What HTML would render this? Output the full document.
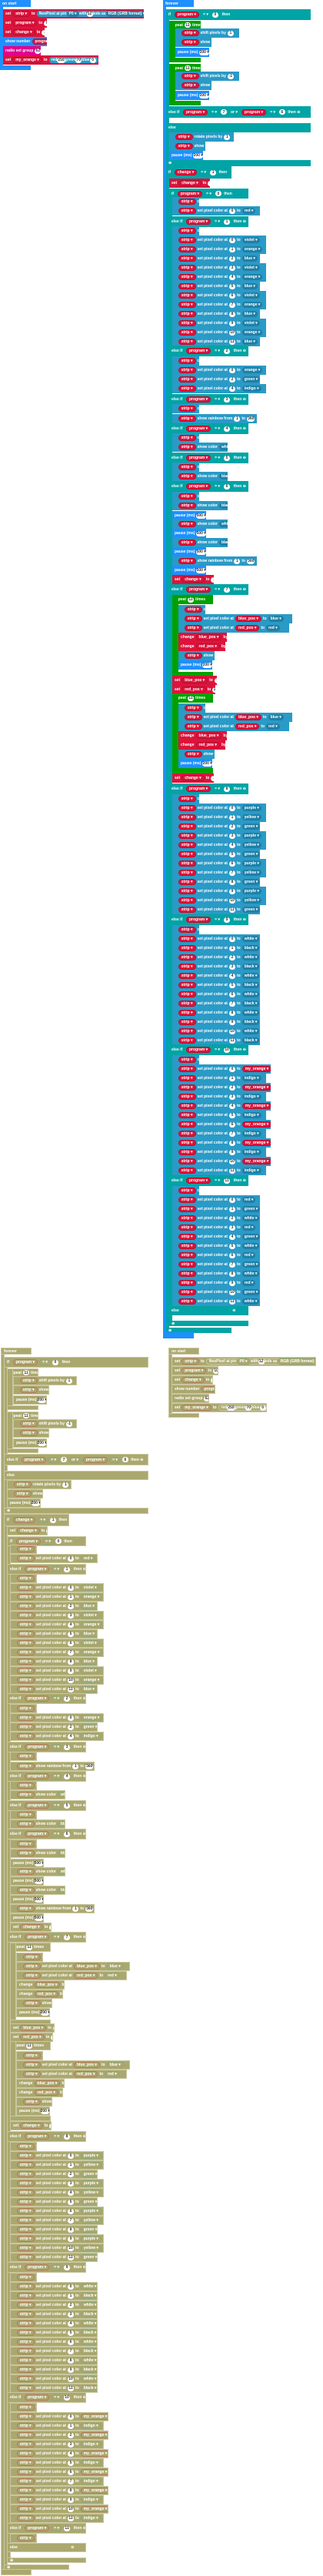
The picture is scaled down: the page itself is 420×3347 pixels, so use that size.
<!DOCTYPE html>
<html><head><meta charset="utf-8"><style>
html,body{margin:0;padding:0;background:#fff;width:420px;height:3347px;overflow:hidden;position:relative}
.b{position:absolute;box-sizing:border-box;font:bold 5px "Liberation Sans",sans-serif;color:#fff;display:flex;align-items:center;gap:2px;padding-left:3px;white-space:nowrap;overflow:hidden}
.p{display:inline-flex;align-items:center;height:8px;border-radius:4px;padding:0 3px;box-sizing:border-box}
.n{display:inline-flex;align-items:center;justify-content:center;height:7px;min-width:8px;border-radius:4px;background:#fff;color:#333;padding:0 1px;box-sizing:border-box}
</style></head><body>
<script>
var T1={blue:'#1e90ff',teal:'#00a4a6',green:'#00a000',red:'#dc143c',neo:'#2a9ac6',pink:'#e3008c',pill:'#dc143c',pb:'#b50f30',dd:'#1f7fa6',txt:'#fff',bd:'none',hex:'#2a9ac6'};
var T2={blue:'#aba86f',teal:'#aba86f',green:'#aba86f',red:'#aba86f',neo:'#aba86f',pink:'#aba86f',pill:'#aba86f',pb:'#b57a5a',dd:'#aba86f',txt:'#fff',bd:'1px solid #c9c79e',hex:'#aba86f'};
var T,OX,OY;
function R(x,y,w,h,c,html){var d=document.createElement('div');d.className='b';d.style.cssText='left:'+(x+OX)+'px;top:'+(y+OY)+'px;width:'+w+'px;height:'+h+'px;background:'+T[c]+';border:'+T.bd;if(html)d.innerHTML=html;document.body.appendChild(d);return d;}
function v(s){return '<span class="p" style="background:'+T.pill+';border:1px solid '+T.pb+'">'+s+' ▾</span>';}
function n(s){return '<span class="n">'+s+'</span>';}
function dd(s,c){return '<span class="p" style="background:'+(c||T.dd)+';border:'+(T===T2?'1px solid #8fa878':'none')+'">'+s+' ▾</span>';}
function st(x,c,w,col,h){return R(x,c-6,w,12,col,h);}
function clr(x,c){st(x,c,35,'neo','&nbsp;&nbsp;'+v('strip')+' clear');}
function sp(x,c,i,col){var w=col=='my_orange'?128:(col.length>5?122:114);st(x,c,w,'neo','&nbsp;&nbsp;'+v('strip')+' set pixel color at '+n(i)+' to '+(col=='my_orange'?v(col):dd(col)));}
function eif(x,c,k,w){R(x,c-7,w||103,14,'teal','else if &nbsp;'+v('program')+' '+dd('=','transparent')+' '+n(k)+' &nbsp;&nbsp;then ⊖');}
function show(x,c,col){st(x,c,72,'neo','&nbsp;&nbsp;'+v('strip')+' show color '+dd(col));}
function rb(x,c){st(x,c,110,'neo','&nbsp;&nbsp;'+v('strip')+' show rainbow from '+n(1)+' to '+n(360));}
function pause(x,c,t){st(x,c,44,'blue','pause (ms) '+n(t+' ▾'));}
function setv(x,c,nm,val,w){st(x,c,w,'red','set '+v(nm)+' to '+n(val));}
function rep(x,y0,y1,inner){R(x,y0,53,12,'green','repeat '+n(11)+' times');R(x,y0,8,y1-y0,'green','');R(x,y1-7,53,7,'green','');}
function forever(olive){
 var s=0;
 R(0,0,4,1739-(olive?144:0),'blue','');
 R(0,0,40,9,'blue','forever');
 R(4,12,4,204,'teal','');
 R(4,12,188,14,'teal','if &nbsp;'+v('program')+' '+dd('=','transparent')+' '+n(0)+' &nbsp;&nbsp;then');
 [27,83].forEach(function(y){R(8,y,41,11,'green','repeat '+n(11)+' times');R(8,y,8,54,'green','');R(8,y+48,41,6,'green','');
  st(16,y+16,83,'neo','&nbsp;&nbsp;'+v('strip')+' shift pixels by '+n(y<50?1:-1));st(16,y+28,47,'neo','&nbsp;&nbsp;'+v('strip')+' show');pause(16,y+41,'200');});
 R(4,138,188,15,'teal','else if &nbsp;'+v('program')+' '+dd('=','transparent')+' '+n(7)+' '+dd('or','transparent')+' '+v('program')+' '+dd('=','transparent')+' '+n(6)+' &nbsp;then ⊖');
 R(4,160,188,12,'teal','else');
 st(8,178,84,'neo','&nbsp;&nbsp;'+v('strip')+' rotate pixels by '+n(1));st(8,190,47,'neo','&nbsp;&nbsp;'+v('strip')+' show');pause(8,202,'200');
 R(4,208,188,8,'teal','⊕');
 var E=olive?144:0;
 R(4,216,4,1516-E,'teal','');
 R(4,216,85,16,'teal','if &nbsp;'+v('change')+' '+dd('=','transparent')+' '+n(1)+' &nbsp;then');
 R(4,1725-E,85,7,'teal','⊕');
 R(0,1731-E,40,8,'blue','');
 setv(8,238,'change','0',53);
 R(8,245,4,1478-E,'teal','');
 R(8,245,103,13,'teal','if &nbsp;'+v('program')+' '+dd('=','transparent')+' '+n(0)+' &nbsp;then');
 var X=12;
 clr(X,262);sp(X,274,0,'red');
 eif(8,288,1);clr(X,300);var c1=['violet','orange','blue'];for(var i=0;i<12;i++)sp(X,312+12*i,i,c1[i%3]);
 eif(8,456,2);clr(X,469);sp(X,481,0,'orange');sp(X,493,2,'green');sp(X,505,4,'indigo');
 eif(8,519,3);clr(X,531);rb(X,544);
 eif(8,557,4);clr(X,569);show(X,581,'white');
 eif(8,595,5);clr(X,607);show(X,619,'black');
 eif(8,632,6);clr(X,645);show(X,657,'black');pause(X,670,'500');show(X,681,'white');pause(X,693,'500');show(X,705,'black');pause(X,717,'500');rb(X,729);pause(X,741,'500');setv(X,753,'change','1',54);
 eif(8,766,7);
 [[773,880,792],[901,1005,920]].forEach(function(a,k){rep(X,a[0],a[1]);var c=a[2],x=20;clr(x,c);
  st(x,c+12,148,'neo','&nbsp;&nbsp;'+v('strip')+' set pixel color at '+v('blue_pos')+' to '+dd('blue'));
  st(x,c+24,144,'neo','&nbsp;&nbsp;'+v('strip')+' set pixel color at '+v('red_pos')+' to '+dd('red'));
  st(x,c+36,63,'red','change '+v('blue_pos')+' by '+n(1));st(x,c+48,61,'red','change '+v('red_pos')+' by '+n(-1));
  st(x,c+60,47,'neo','&nbsp;&nbsp;'+v('strip')+' show');pause(x,c+72,'200');
  if(k==0){setv(X,884,'blue_pos','0',58);setv(X,896,'red_pos','11',56);}});
 setv(X,1011,'change','1',54);
 var sets=[[1025,8,['purple','yellow','green']],[1195,9,['white','black']],[1364,10,['my_orange','indigo']],[1534,11,['red','green','white']]];
 sets.forEach(function(s){eif(8,s[0],s[1]);clr(X,s[0]+13);if(olive&&s[1]==11)return;for(var i=0;i<12;i++)sp(X,s[0]+25+12*i,i,s[2][i%s[2].length]);});
 R(8,1697-E,103,12,'teal','else &nbsp;&nbsp;&nbsp;&nbsp;&nbsp;&nbsp;&nbsp;&nbsp;&nbsp;&nbsp;&nbsp;&nbsp;&nbsp;&nbsp;&nbsp;&nbsp;&nbsp;&nbsp;&nbsp;&nbsp;&nbsp;&nbsp;&nbsp;&nbsp;&nbsp;&nbsp;&nbsp;&nbsp;&nbsp;&nbsp;&nbsp;&nbsp;&nbsp;&nbsp;&nbsp;&nbsp;&nbsp;&nbsp;&nbsp;&nbsp;&nbsp;&nbsp;&nbsp;&nbsp;&nbsp;&nbsp;&nbsp;&nbsp;&nbsp;⊖');
 R(8,1716-E,103,7,'teal','⊕');
}
function onstart(olive){
 R(0,0,4,91,'blue','');R(0,0,40,9,'blue','on start');R(0,85,40,6,'blue','');
 st(4,18,olive?188:183,'red','set '+v('strip')+' to <span class="p" style="background:'+T.hex+';border:'+T.bd+'">NeoPixel at pin '+dd('P0')+' with '+n(12)+' leds as '+dd('RGB (GRB format)')+'</span>');
 setv(4,30,'program',olive?'10':'0',olive?61:57);setv(4,42,'change','1',54);
 st(4,54,57,'blue','show number '+v('program'));
 st(4,66,49,'pink','radio set group '+n(62));
 st(4,78,124,'red','set '+v('my_orange')+' to <span class="p" style="background:'+T.hex+';border:'+T.bd+'">red '+n(255)+' green '+n(70)+' blue '+n(0)+'</span>');
}
T=T1;OX=0;OY=0;onstart(false);
OX=212;OY=0;forever(false);
T=T2;OX=1;OY=1751;forever(true);
OX=219;OY=1751;onstart(true);
</script>
</body></html>
